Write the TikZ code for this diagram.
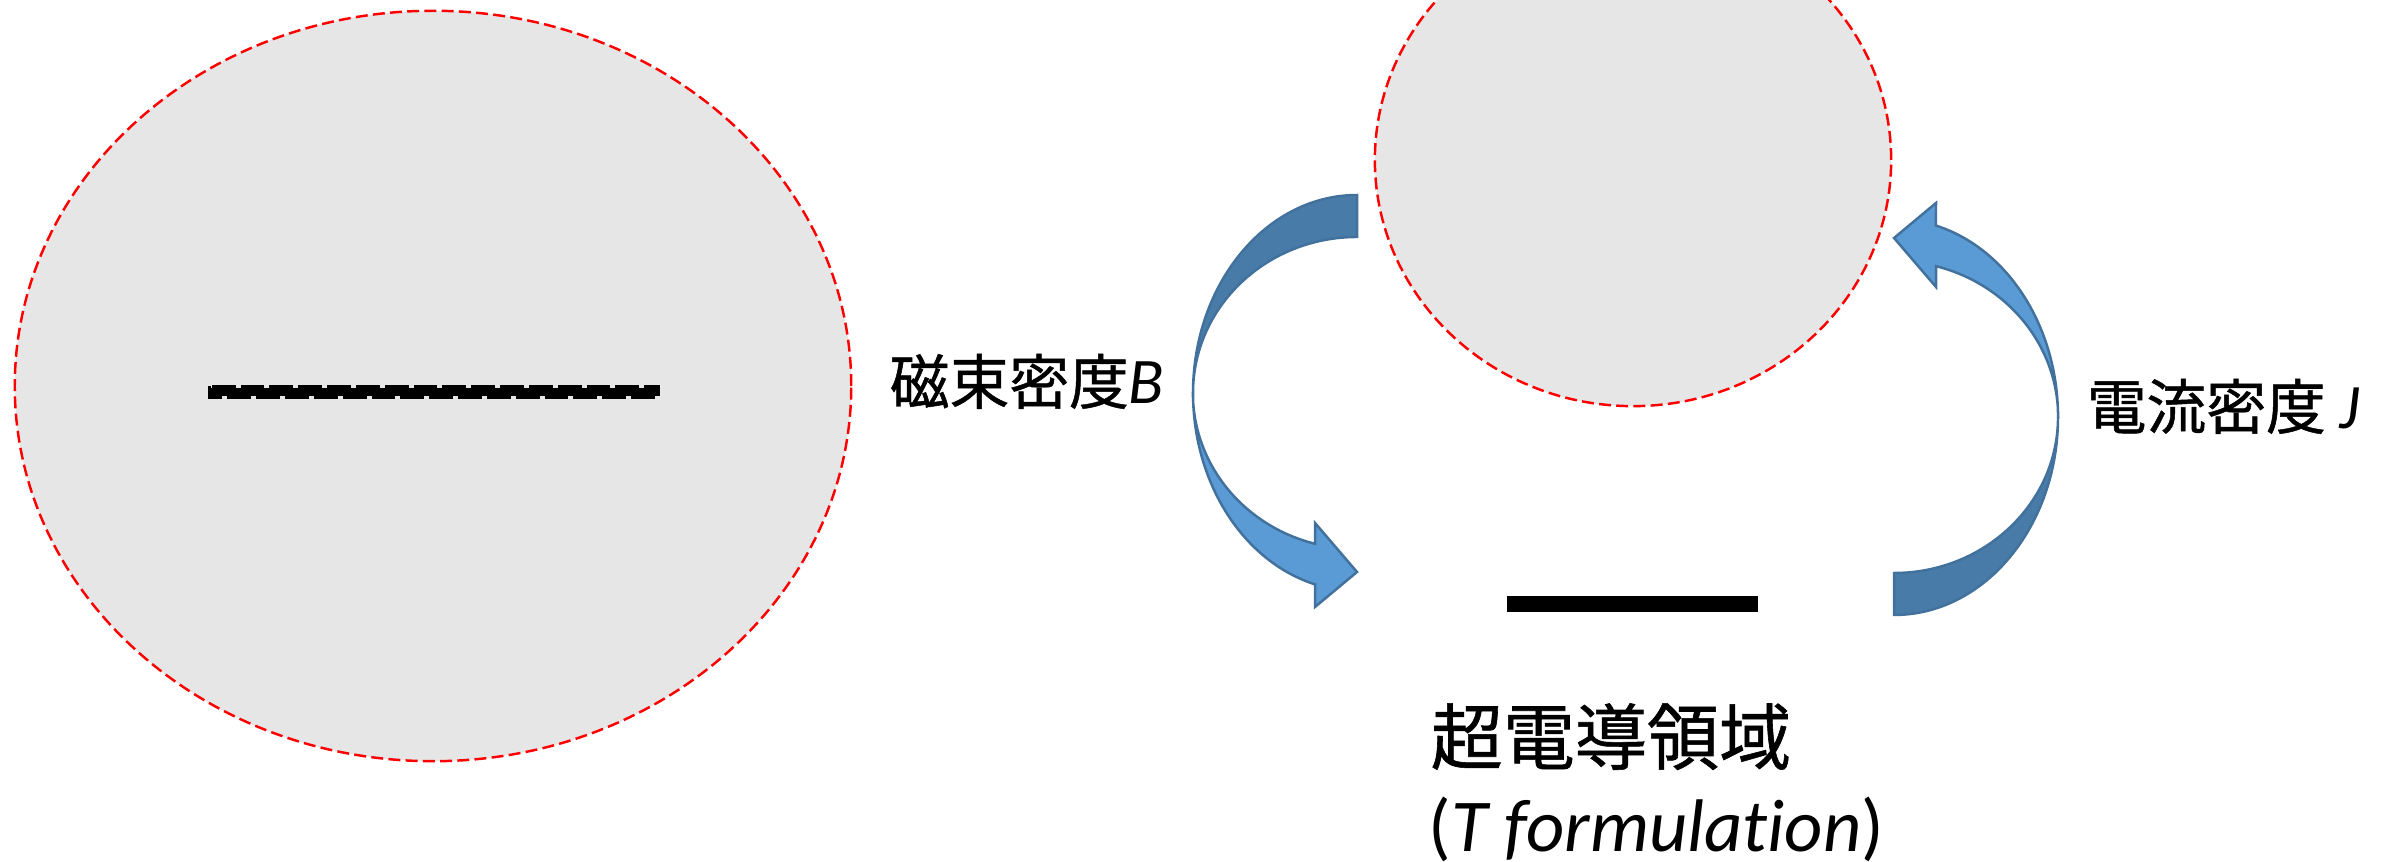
\documentclass[tikz,border=0pt]{standalone}
\usepackage{fontspec}
\setmainfont{Carlito}[Ligatures=NoCommon]
\newfontfamily\cjk{Noto Sans CJK JP}[FakeBold=0.8]
\usetikzlibrary{shapes.geometric}
\definecolor{regionfill}{HTML}{E6E6E6}
\definecolor{arrowdark}{HTML}{487BA7}
\definecolor{arrowlight}{HTML}{5B9BD5}
\definecolor{arrowline}{HTML}{41719C}
\newcommand\mycurvedarrow{%
  \path[bandback] (1357,195)
    arc[start angle=270,end angle=180,x radius=164,y radius=198]
    arc[start angle=180,end angle=270,x radius=164,y radius=156] -- cycle;
  \path[bandfront] (1193,393)
    arc[start angle=180,end angle=104.8,x radius=164,y radius=198]
    -- (1315,607) -- (1357,572) -- (1315,523) -- (1315,543.8)
    arc[start angle=104.8,end angle=180,x radius=164,y radius=156] -- cycle;
}
\begin{document}
\begin{tikzpicture}[x=0.01cm,y=-0.01cm,
  region/.style={ellipse, draw=red, fill=regionfill, line width=0.7pt,
    dash pattern=on 3.4pt off 1.5pt, inner sep=0pt},
  bandback/.style={fill=arrowdark, draw=arrowline, line width=0.7pt, line join=miter},
  bandfront/.style={fill=arrowlight, draw=arrowline, line width=0.7pt, line join=miter},
  lbl/.style={inner sep=0pt, anchor=base west}]
\useasboundingbox (0,0) rectangle (2382,862);
% regions
\node (outer) [region, minimum width=8.36cm, minimum height=7.5cm] at (433,386) {};
\node (sc) [region, minimum width=5.16cm, minimum height=4.92cm] at (1633,160) {};
% dashed wire in outer region
\fill[black] (211,388) rectangle (657,396);
\draw[black, line width=0.85pt, dash pattern=on 6.8pt off 1.4pt] (209.5,386.5) rectangle (658.5,397.5);
% superconductor bar
\fill[black] (1507,596) rectangle (1758,612);
% curved arrows
\mycurvedarrow
\begin{scope}[rotate around={180:(1625.5,405)}]
\mycurvedarrow
\end{scope}
% labels
\node (lb) [lbl] at (889,404) {\fontsize{17}{20}\selectfont{\cjk 磁束密度}\fontsize{18.5}{22}\selectfont\itshape B};
\node (lj) [lbl] at (2086,429) {\fontsize{17}{20}\selectfont{\cjk 電流密度} \fontsize{18}{22}\selectfont\itshape J};
\node (ls) [lbl] at (1430,764) {\fontsize{20.5}{24}\selectfont\cjk 超電導領域};
\node (lt) [lbl] at (1428,852) {\fontsize{21.2}{25}\selectfont(\textit{T formulation})};
\end{tikzpicture}
\end{document}
